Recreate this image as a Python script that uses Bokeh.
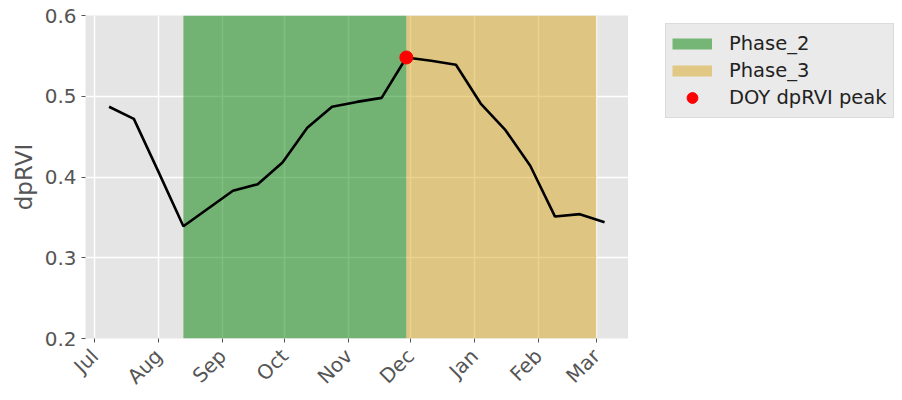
import datetime as dt
from math import pi
from bokeh.plotting import figure
from bokeh.layouts import row
from bokeh.models import (Range1d, FixedTicker, MonthsTicker, DatetimeTickFormatter,
                          Legend, LegendItem)
from bokeh.embed import file_html
from bokeh.resources import INLINE

# ---- data ----
dates = [
    dt.datetime(2020, 7, 8), dt.datetime(2020, 7, 20), dt.datetime(2020, 8, 1),
    dt.datetime(2020, 8, 13), dt.datetime(2020, 8, 25), dt.datetime(2020, 9, 6),
    dt.datetime(2020, 9, 18), dt.datetime(2020, 9, 30), dt.datetime(2020, 10, 12),
    dt.datetime(2020, 10, 24), dt.datetime(2020, 11, 5), dt.datetime(2020, 11, 17),
    dt.datetime(2020, 11, 29), dt.datetime(2020, 12, 11), dt.datetime(2020, 12, 23),
    dt.datetime(2021, 1, 4), dt.datetime(2021, 1, 16), dt.datetime(2021, 1, 28),
    dt.datetime(2021, 2, 9), dt.datetime(2021, 2, 21), dt.datetime(2021, 3, 5),
]
dprvi = [0.487, 0.472, 0.406, 0.339, 0.361, 0.383, 0.391, 0.418, 0.461, 0.487,
         0.493, 0.498, 0.548, 0.544, 0.539, 0.491, 0.458, 0.414, 0.351, 0.354, 0.344]

phase_labels = ["Phase_2", "Phase_3"]
phase_start = [dt.datetime(2020, 8, 13), dt.datetime(2020, 11, 29)]
phase_end = [dt.datetime(2020, 11, 29), dt.datetime(2021, 3, 1)]
phase_colors = ["green", "goldenrod"]

peak_label = "DOY dpRVI peak"
peak_date = [dt.datetime(2020, 11, 29)]
peak_value = [0.548]

y_min, y_max = 0.2, 0.6
y_ticks = [0.2, 0.3, 0.4, 0.5, 0.6]
x_start = dt.datetime(2020, 6, 26, 14)
x_end = dt.datetime(2021, 3, 16, 14)

# ---- main chart ----
p = figure(frame_width=543, frame_height=323, x_axis_type="datetime",
           x_range=Range1d(x_start, x_end), y_range=Range1d(y_min, y_max),
           output_backend="svg", toolbar_location=None,
           min_border_left=85, min_border_top=15, min_border_right=0,
           min_border_bottom=54)
p.background_fill_color = "#e5e5e5"
p.border_fill_color = "white"
p.outline_line_color = None

for s, e, c in zip(phase_start, phase_end, phase_colors):
    p.quad(left=[s], right=[e], bottom=[y_min], top=[y_max], fill_color=c,
           fill_alpha=0.5, line_color=None)

p.line(dates, dprvi, line_color="black", line_width=2.6)
p.scatter(peak_date, peak_value, size=13, fill_color="red", line_color="red")

p.grid.grid_line_color = "white"
p.grid.grid_line_width = 1.4

p.xaxis.ticker = MonthsTicker(months=list(range(12)))
p.xaxis.formatter = DatetimeTickFormatter(months="%b", days="%b", years="%b")
p.xaxis.major_label_orientation = pi / 4
p.xaxis.major_label_standoff = 10
p.yaxis.ticker = FixedTicker(ticks=y_ticks)
for ax in (p.xaxis[0], p.yaxis[0]):
    ax.axis_line_color = None
    ax.major_tick_line_color = "#555555"
    ax.major_tick_out = 4
    ax.major_tick_in = 0
    ax.minor_tick_line_color = None
    ax.major_label_text_font = "DejaVu Sans"
    ax.major_label_text_font_size = "20px"
    ax.major_label_text_color = "#555555"
p.yaxis.axis_label = "dpRVI"
p.yaxis.axis_label_text_font = "DejaVu Sans"
p.yaxis.axis_label_text_font_style = "normal"
p.yaxis.axis_label_text_font_size = "23px"
p.yaxis.axis_label_text_color = "#555555"

# ---- legend area (axis-less figure beside the chart) ----
q = figure(width=274, height=392, x_range=Range1d(0, 1), y_range=Range1d(0, 1),
           output_backend="svg", toolbar_location=None,
           x_axis_location=None, y_axis_location=None,
           min_border_left=29, min_border_top=15, min_border_right=0,
           min_border_bottom=0)
q.grid.visible = False
q.outline_line_color = None
q.background_fill_color = "white"
q.border_fill_color = "white"

# legend proxies: same data as the chart, which lies far outside this
# panel's 0..1 ranges, so only their legend swatches are seen
items = []
for lab, s, e, c in zip(phase_labels, phase_start, phase_end, phase_colors):
    sw = q.line(x=[s, e], y=[y_max, y_max], line_color=c, line_alpha=0.5,
                line_width=11, line_cap="butt")
    items.append(LegendItem(label=lab, renderers=[sw]))
mk = q.scatter(peak_date, peak_value, size=13, fill_color="red", line_color="red")
items.append(LegendItem(label=peak_label, renderers=[mk]))

lg = Legend(items=items, location="top_left", margin=8)
lg.background_fill_color = "#e5e5e5"
lg.background_fill_alpha = 0.8
lg.border_line_color = "#cccccc"
lg.label_text_font = "DejaVu Sans"
lg.label_text_font_size = "19.5px"
lg.label_text_color = "#222222"
lg.glyph_width = 40
lg.glyph_height = 27
lg.label_height = 24
lg.spacing = 0
lg.padding = 6
lg.label_standoff = 17
q.add_layout(lg)

layout = row(p, q, spacing=0)
open("out.html", "w").write(file_html(layout, INLINE))
